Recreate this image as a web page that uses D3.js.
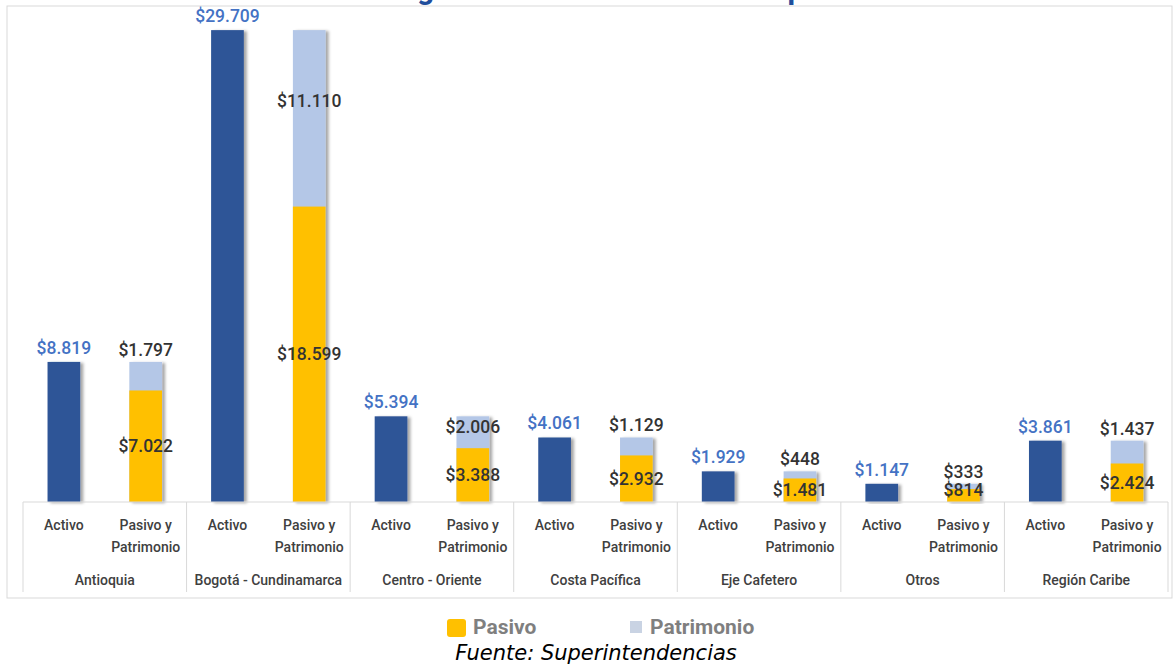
<!DOCTYPE html>
<html lang="es">
<head>
<meta charset="UTF-8">
<title>Activos, pasivos y patrimonio por región</title>
<style>
    body { margin: 0; background: #fff; }
    svg { display: block; }
    .val { font-family: Roboto, sans-serif; font-size: 17.5px; font-weight: 500; }
    .cat { font-family: Roboto, sans-serif; font-size: 14px; font-weight: 500; fill: #404040; }
    .legend text { font-family: Roboto, sans-serif; font-size: 21px; font-weight: bold; fill: #7f7f7f; }
</style>
</head>
<body>
<svg width="1176" height="664"></svg>
<script src="https://cdnjs.cloudflare.com/ajax/libs/d3/7.8.5/d3.min.js"></script>
<script>
    // miles de millones de pesos
    var regions = ["Antioquia", "Bogotá - Cundinamarca", "Centro - Oriente", "Costa Pacífica",
        "Eje Cafetero", "Otros", "Región Caribe"];
    var subCats = ["Activo", "Pasivo y Patrimonio"];
    var activo = [8819, 29709, 5394, 4061, 1929, 1147, 3861];
    var pasivo = [7022, 18599, 3388, 2932, 1481, 814, 2424];
    var patrimonio = [1797, 11110, 2006, 1129, 448, 333, 1437];
    var legendItems = ["Pasivo", "Patrimonio"];

    var colors = { activo: "#2f5597", pasivo: "#ffc000", patrimonio: "#b4c7e7" };

    var svg = d3.select("svg");
    var locale = d3.formatLocale({ decimal: ",", thousands: ".", grouping: [3], currency: ["$", ""] });
    var fmt = locale.format("$,");

    var defs = svg.append("defs");
    defs.append("filter").attr("id", "shadow")
        .attr("x", "-20%").attr("y", "-5%").attr("width", "150%").attr("height", "115%")
        .append("feDropShadow")
        .attr("dx", 3).attr("dy", 1).attr("stdDeviation", 1.5)
        .attr("flood-color", "#000").attr("flood-opacity", 0.35);

    // title (cut off at the top edge, as in the original)
    svg.append("text")
        .attr("x", 602).attr("y", -1)
        .attr("text-anchor", "middle")
        .style("font-family", "Roboto, sans-serif")
        .style("font-size", "30px")
        .style("font-weight", "bold")
        .style("fill", "#1f4e9c")
        .text("Por región - Miles de millones de pesos");

    // chart border
    svg.append("rect")
        .attr("x", 7).attr("y", 6).attr("width", 1165).attr("height", 592)
        .attr("fill", "none").attr("stroke", "#d9d9d9");

    var x0 = d3.scaleBand().domain(regions).range([23, 1168]);
    var x1 = d3.scalePoint().domain(subCats).range([0, x0.bandwidth()]).padding(0.5);
    var barW = x1.step() * 0.4;
    var y = d3.scaleLinear().domain([0, 30000]).range([502, 25.5]);

    var groups = svg.append("g").selectAll("g")
        .data(regions)
        .enter().append("g")
        .attr("transform", function (d) { return "translate(" + x0(d) + ",0)"; });

    // Activo bars
    groups.append("rect")
        .attr("x", x1("Activo") - barW / 2)
        .attr("width", barW)
        .attr("y", function (d, i) { return y(activo[i]); })
        .attr("height", function (d, i) { return y(0) - y(activo[i]); })
        .attr("fill", colors.activo)
        .attr("filter", "url(#shadow)");

    // Pasivo + Patrimonio stacked
    var px = x1("Pasivo y Patrimonio") - barW / 2;
    groups.append("rect")
        .attr("x", px).attr("width", barW)
        .attr("y", function (d, i) { return y(pasivo[i] + patrimonio[i]); })
        .attr("height", function (d, i) { return y(0) - y(pasivo[i] + patrimonio[i]); })
        .attr("fill", colors.patrimonio)
        .attr("filter", "url(#shadow)");
    groups.append("rect")
        .attr("x", px).attr("width", barW)
        .attr("y", function (d, i) { return y(pasivo[i]); })
        .attr("height", function (d, i) { return y(0) - y(pasivo[i]); })
        .attr("fill", colors.pasivo);

    // labels
    groups.append("text")
        .attr("class", "val")
        .attr("x", x1("Activo"))
        .attr("y", function (d, i) { return y(activo[i]) - 8; })
        .attr("text-anchor", "middle")
        .style("fill", "#4472c4")
        .text(function (d, i) { return fmt(activo[i]); });

    groups.append("text")
        .attr("class", "val")
        .attr("x", x1("Pasivo y Patrimonio"))
        .attr("y", function (d, i) {
            var c = (y(pasivo[i]) + y(0)) / 2;
            return Math.min(c, 490) + 6;
        })
        .attr("text-anchor", "middle")
        .style("fill", "#333")
        .text(function (d, i) { return fmt(pasivo[i]); });

    groups.append("text")
        .attr("class", "val")
        .attr("x", x1("Pasivo y Patrimonio"))
        .attr("y", function (d, i) {
            var top = y(pasivo[i] + patrimonio[i]), bot = y(pasivo[i]);
            var h = bot - top;
            if (h > 40) return top + h * 0.4 + 6;
            if (h > 30) return top + 11 + 6;
            return top - 12 + 6;
        })
        .attr("text-anchor", "middle")
        .style("fill", "#333")
        .text(function (d, i) { return fmt(patrimonio[i]); });

    // category axis
    var axis = svg.append("g").attr("stroke", "#d9d9d9").attr("fill", "none");
    axis.append("line")
        .attr("x1", x0.range()[0]).attr("x2", x0.range()[1])
        .attr("y1", y(0)).attr("y2", y(0));
    axis.selectAll("line.sep")
        .data(regions.concat(["end"]))
        .enter().append("line")
        .attr("class", "sep")
        .attr("x1", function (d) { return d === "end" ? x0.range()[1] : x0(d); })
        .attr("x2", function (d) { return d === "end" ? x0.range()[1] : x0(d); })
        .attr("y1", y(0)).attr("y2", 592);

    groups.each(function () {
        var g = d3.select(this);
        subCats.forEach(function (s) {
            var t = g.append("text").attr("class", "cat")
                .attr("x", x1(s)).attr("y", 530).attr("text-anchor", "middle");
            var words = s === "Pasivo y Patrimonio" ? ["Pasivo y", "Patrimonio"] : [s];
            words.forEach(function (w, k) {
                t.append("tspan").attr("x", x1(s)).attr("dy", k ? 22 : 0).text(w);
            });
        });
    });
    groups.append("text").attr("class", "cat")
        .attr("x", x0.bandwidth() / 2).attr("y", 585)
        .attr("text-anchor", "middle")
        .text(function (d) { return d; });

    // legend
    var legend = svg.append("g").attr("class", "legend");
    var lx = [447, 630];
    legendItems.forEach(function (name, i) {
        var lg = legend.append("g").attr("transform", "translate(" + lx[i] + ",627)");
        if (i === 0) {
            lg.append("rect").attr("x", 0).attr("y", -8).attr("width", 19).attr("height", 18)
                .attr("rx", 3).attr("fill", colors.pasivo);
        } else {
            lg.append("rect").attr("x", 0).attr("y", -6).attr("width", 12).attr("height", 12)
                .attr("fill", "#c9d3e3");
        }
        lg.append("text").attr("x", i === 0 ? 26 : 20).attr("y", 7).text(name);
    });

    svg.append("text")
        .attr("x", 596).attr("y", 660)
        .attr("text-anchor", "middle")
        .style("font-family", "'DejaVu Sans', sans-serif")
        .style("font-size", "21px")
        .style("font-style", "italic")
        .style("fill", "#000")
        .text("Fuente: Superintendencias");
</script>
</body>
</html>
